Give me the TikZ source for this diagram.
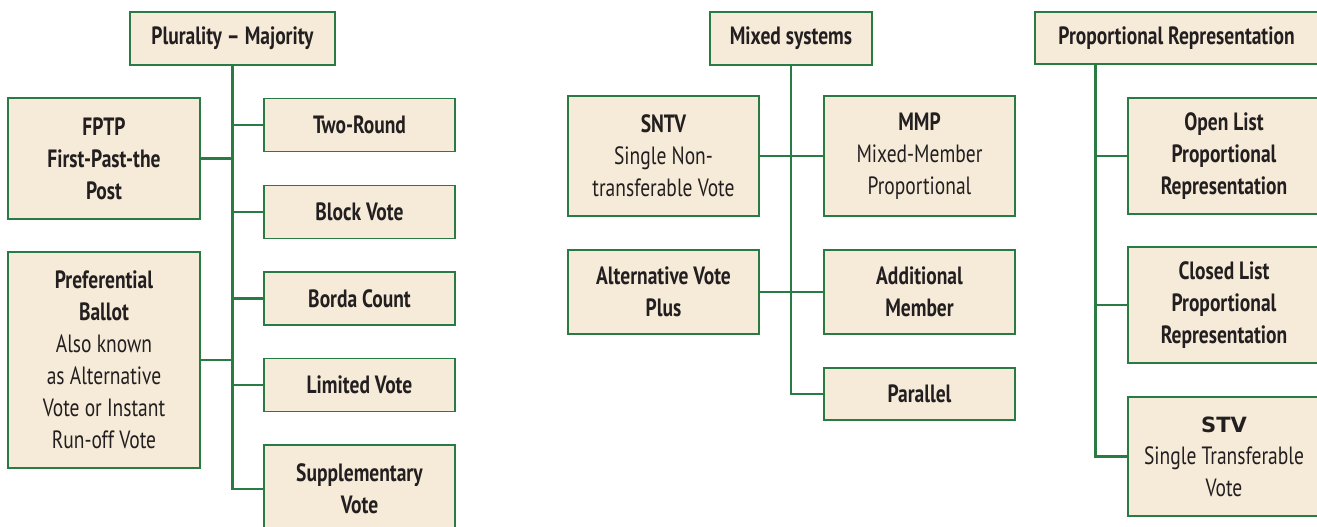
\documentclass[tikz,border=0pt]{standalone}
\usepackage{fontspec}
\setmainfont[FakeStretch=0.78]{PT Sans}
\newfontfamily\stvfont{DejaVu Sans}

\definecolor{boxfill}{HTML}{F6EBD8}
\definecolor{boxgreen}{HTML}{2A7A44}
\definecolor{inkgray}{HTML}{231F20}

\tikzset{
  sysbox/.style={draw=boxgreen, line width=1.6pt, fill=boxfill, text=inkgray,
    align=center, inner sep=0pt, minimum width=191pt,
    font=\fontsize{25}{32}\selectfont},
  headbox/.style={sysbox, font=\fontsize{25}{32}\selectfont\bfseries, minimum height=53pt},
  link/.style={draw=boxgreen, line width=2.8pt},
}

\begin{document}
\begin{tikzpicture}[x=1pt, y=-1pt]
		\clip (0,0) rectangle (1317,527);
		
		% plurality - majority
		\node[headbox, minimum width=205pt] (plur) at (232.5,38.5) {Plurality -- Majority};
		\node[sysbox, minimum width=192pt, minimum height=121pt] (fptp) at (104,158.5) {\textbf{FPTP}\\\textbf{First-Past-the}\\\textbf{Post}};
		\node[sysbox, minimum width=192pt, minimum height=216pt] (pref) at (104,360) {\textbf{Preferential}\\\textbf{Ballot}\\Also known\\as Alternative\\Vote or Instant\\Run-off Vote};
		\node[headbox] (tworound) at (359.5,125) {Two-Round};
		\node[headbox] (block) at (359.5,212) {Block Vote};
		\node[headbox] (borda) at (359.5,298.5) {Borda Count};
		\node[headbox] (limited) at (359.5,385) {Limited Vote};
		\node[sysbox, minimum height=88pt] (supp) at (359.5,489) {\textbf{Supplementary}\\\textbf{Vote}};
		
		\draw[link] (plur.south) |- (supp.west);
		\foreach \n in {tworound, block, borda, limited}
			\draw[link] (plur.south |- \n.west) -- (\n.west);
		\foreach \n in {fptp, pref}
			\draw[link] (\n.east) -- (\n.east -| plur.south);
		
		% mixed systems
		\node[headbox, minimum width=162pt] (mixed) at (791,38.5) {Mixed systems};
		\node[sysbox, minimum height=120pt] (sntv) at (663.5,156) {\textbf{SNTV}\\Single Non-\\transferable Vote};
		\node[sysbox, minimum height=120pt] (mmp) at (919.5,156) {\textbf{MMP}\\Mixed-Member\\Proportional};
		\node[sysbox, minimum height=84pt] (avp) at (663.5,292) {\textbf{Alternative Vote}\\\textbf{Plus}};
		\node[sysbox, minimum height=84pt] (addm) at (919.5,292) {\textbf{Additional}\\\textbf{Member}};
		\node[headbox, minimum height=52pt] (parallel) at (919.5,394) {Parallel};
		
		\draw[link] (mixed.south) |- (parallel.west);
		\draw[link] (sntv.east) -- (mmp.west);
		\draw[link] (avp.east) -- (addm.west);
		
		% proportional representation
		\node[headbox, minimum width=283pt, minimum height=52pt] (pr) at (1176.5,38) {Proportional Representation};
		\coordinate (prroot) at ([xshift=61pt]pr.south west);
		\node[sysbox, minimum width=192pt, minimum height=116pt] (openlist) at (1224,156) {\textbf{Open List}\\\textbf{Proportional}\\\textbf{Representation}};
		\node[sysbox, minimum width=192pt, minimum height=116pt] (closedlist) at (1224,305) {\textbf{Closed List}\\\textbf{Proportional}\\\textbf{Representation}};
		\node[sysbox, minimum width=192pt, minimum height=119pt] (stv) at (1224,456.5) {{\stvfont\bfseries\fontsize{21}{32}\selectfont STV}\\Single Transferable\\Vote};
		
		\draw[link] (prroot) |- (stv.west);
		\foreach \n in {openlist, closedlist}
			\draw[link] (prroot |- \n.west) -- (\n.west);
		\end{tikzpicture}
\end{document}
